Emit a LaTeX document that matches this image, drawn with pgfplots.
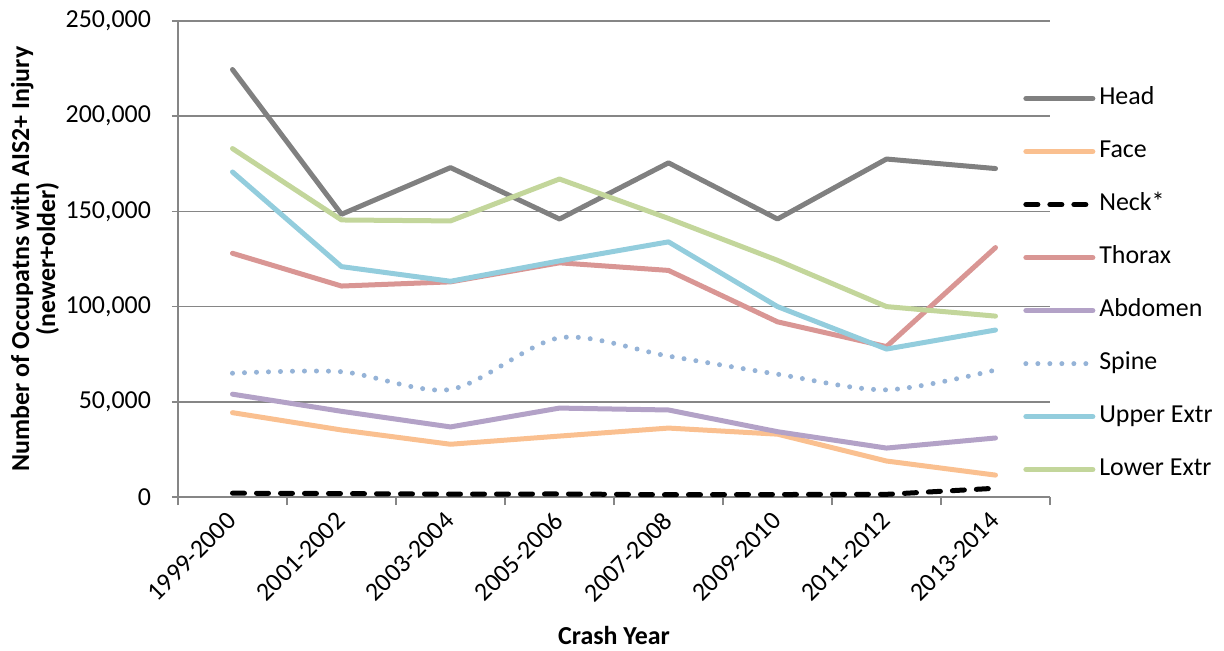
\documentclass[border=0pt]{standalone}
\usepackage{pgfplots}
\pgfplotsset{compat=1.18}
\usepackage{fontspec}
\setmainfont{Carlito}
\definecolor{cHead}{RGB}{128,128,128}
\definecolor{cFace}{RGB}{250,192,144}
\definecolor{cThorax}{RGB}{217,150,148}
\definecolor{cAbd}{RGB}{179,162,199}
\definecolor{cSpine}{RGB}{149,179,215}
\definecolor{cUpper}{RGB}{147,205,221}
\definecolor{cLower}{RGB}{195,214,155}
\definecolor{cGrid}{RGB}{134,134,134}
\begin{document}
\fontsize{13}{15.6}\selectfont
\begin{tikzpicture}
\begin{axis}[
  at={(0,0)}, anchor=south west,
  scale only axis,
  width=436bp, height=238bp,
  xmin=-0.5, xmax=7.5, ymin=0, ymax=250000,
  xtick={0,...,7},
  xticklabels={1999-2000,2001-2002,2003-2004,2005-2006,2007-2008,2009-2010,2011-2012,2013-2014},
  minor xtick={-0.5,0.5,...,7.5},
  major x tick style={draw=none},
  minor tick length=4bp,
  ytick={0,50000,...,250000},
  major tick length=3bp,
  tick align=outside,
  tick style={cGrid, line width=0.75bp},
  axis x line*=bottom, axis y line*=left,
  axis line style={cGrid, line width=0.75bp, -},
  ymajorgrids, grid style={cGrid, line width=0.75bp},
  scaled y ticks=false,
  /pgf/number format/.cd, fixed, 1000 sep={,}, assume math mode=true,
  /pgfplots/.cd,
  tick label style={font=\fontsize{13}{15.6}\selectfont, text=black},
  xticklabel style={rotate=45, anchor=north east, inner sep=1bp, xshift=-4bp, yshift=1bp},
  yticklabel style={xshift=-6bp},
  xlabel={\bfseries Crash Year},
  xlabel style={at={(rel axis cs:0.5,0)}, anchor=center, yshift=-69.5bp, font=\fontsize{13}{15.6}\selectfont},
  ylabel={\bfseries Number of Occupatns with AIS2+ Injury\\\bfseries (newer+older)},
  ylabel style={at={(rel axis cs:0,0.5)}, anchor=center, yshift=71.5bp, align=center, font=\fontsize{13}{13}\selectfont},
  every axis plot/.append style={line width=2.5bp, line cap=round, line join=round},
  legend cell align=left,
  legend style={at={(rel axis cs:0.969,0.863)}, anchor=north west, draw=none, fill=none,
    inner sep=0pt, row sep=14.5bp, font=\fontsize{13}{15.6}\selectfont,
    nodes={inner sep=0pt, text height=9bp, text depth=3bp}},
  legend image code/.code={\draw[#1] (1.25bp,0bp) -- (34.75bp,0bp) node[right, xshift=1bp, inner sep=0pt] {};},
]
\addplot[cHead] coordinates {(0,224500) (1,148500) (2,173000) (3,146000) (4,175500) (5,146000) (6,177500) (7,172500)};
\addlegendentry{Head}
\addplot[cFace] coordinates {(0,44300) (1,35200) (2,27700) (3,32000) (4,36200) (5,33000) (6,18900) (7,11500)};
\addlegendentry{Face}
\addplot[black, dash pattern=on 6bp off 6bp] coordinates {(0,2000) (1,1800) (2,1500) (3,1600) (4,1200) (5,1300) (6,1400) (7,4600)};
\addlegendentry{Neck*}
\addplot[cThorax] coordinates {(0,128000) (1,110800) (2,113000) (3,123000) (4,119000) (5,92000) (6,79000) (7,131000)};
\addlegendentry{Thorax}
\addplot[cAbd] coordinates {(0,54000) (1,45000) (2,36800) (3,46700) (4,45700) (5,34300) (6,25700) (7,31000)};
\addlegendentry{Abdomen}
\addplot[cSpine, dash pattern=on 0bp off 6bp, smooth] coordinates {(0,65000) (1,65800) (2,56500) (3,83600) (4,74000) (5,64500) (6,56300) (7,66700)};
\addlegendentry{Spine}
\addplot[cUpper] coordinates {(0,170700) (1,121000) (2,113300) (3,124000) (4,134000) (5,100000) (6,77700) (7,87700)};
\addlegendentry{Upper Extr}
\addplot[cLower] coordinates {(0,183000) (1,145500) (2,145000) (3,167000) (4,146300) (5,124300) (6,100000) (7,95000)};
\addlegendentry{Lower Extr}
\end{axis}
\pgfresetboundingbox
\useasboundingbox (-89bp,-77bp) rectangle (523bp,248.5bp);
\end{tikzpicture}
\end{document}
